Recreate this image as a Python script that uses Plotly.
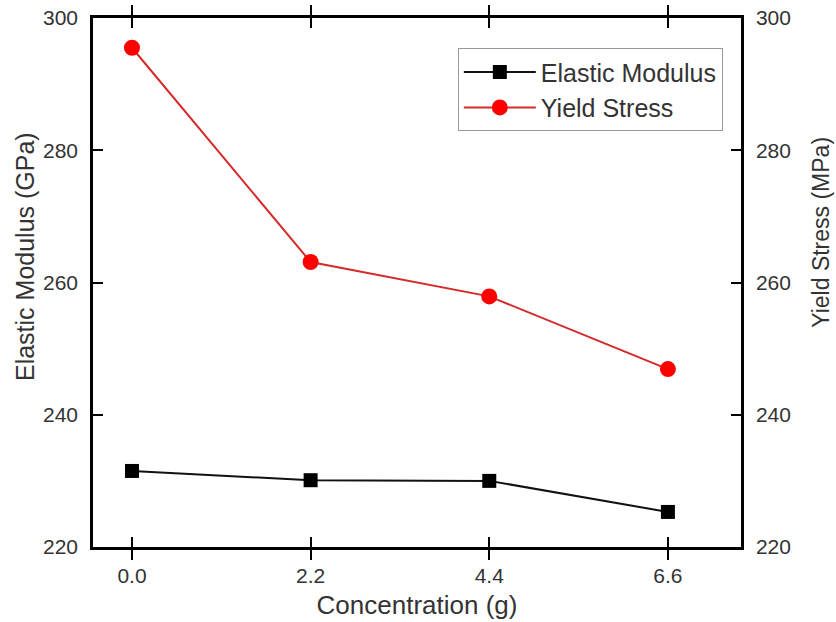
import plotly.graph_objects as go

concentration = [0.0, 2.2, 4.4, 6.6]
elastic_modulus = [231.5, 230.1, 230.0, 225.3]
yield_stress = [295.5, 263.1, 257.9, 246.9]
tick_vals = [0.0, 2.2, 4.4, 6.6]
tick_text = ["0.0", "2.2", "4.4", "6.6"]

fuente = dict(family="Liberation Sans, Arial, sans-serif", color="#333333")

fig = go.Figure()
fig.add_trace(go.Scatter(x=concentration, y=elastic_modulus, name="Elastic Modulus",
                         mode="lines+markers",
                         line=dict(color="#111111", width=2),
                         marker=dict(symbol="square", size=14, color="#000000")))
fig.add_trace(go.Scatter(x=concentration, y=yield_stress, name="Yield Stress",
                         mode="lines+markers", yaxis="y2",
                         line=dict(color="#d42a2a", width=2),
                         marker=dict(symbol="circle", size=16, color="#ff0000")))

eje = dict(showline=True, linecolor="black", linewidth=2.5, ticks="inside", ticklen=10,
           tickwidth=2, tickcolor="black", showgrid=False, zeroline=False,
           tickfont=dict(size=21, **fuente), title_font=dict(size=26, **fuente),
           ticklabelstandoff=8, automargin=False)

fig.update_layout(
    template=None,
    width=836, height=622,
    paper_bgcolor="white", plot_bgcolor="white",
    margin=dict(l=93, r=95, t=18, b=75, autoexpand=False),
    xaxis=dict(range=[-0.48, 7.5], tickvals=tick_vals, ticktext=tick_text,
               mirror="allticks", title_text="Concentration (g)", title_standoff=10, **eje),
    yaxis=dict(range=[220, 300], dtick=20, **eje),
    yaxis2=dict(range=[220, 300], dtick=20, overlaying="y", side="right", **eje),
    legend=dict(x=0.563, y=0.943, xanchor="left", yanchor="top",
                bordercolor="#999999", borderwidth=1, bgcolor="white",
                font=dict(size=25, **fuente), tracegroupgap=0, itemwidth=72),
    showlegend=True,
)
# titulos de los ejes Y como anotaciones (no centrados en el original)
fig.add_annotation(text="Elastic Modulus (GPa)", textangle=-90, xref="paper", yref="paper",
                   x=-0.105, y=0.55, xanchor="center", yanchor="middle", showarrow=False,
                   font=dict(size=25, **fuente))
fig.add_annotation(text="Yield Stress (MPa)", textangle=-90, xref="paper", yref="paper",
                   x=1.1235, y=0.594, xanchor="center", yanchor="middle", showarrow=False,
                   font=dict(size=23, **fuente))

fig.write_html("out.html", config={"displayModeBar": False},
               post_script="document.body.style.margin='0';")
